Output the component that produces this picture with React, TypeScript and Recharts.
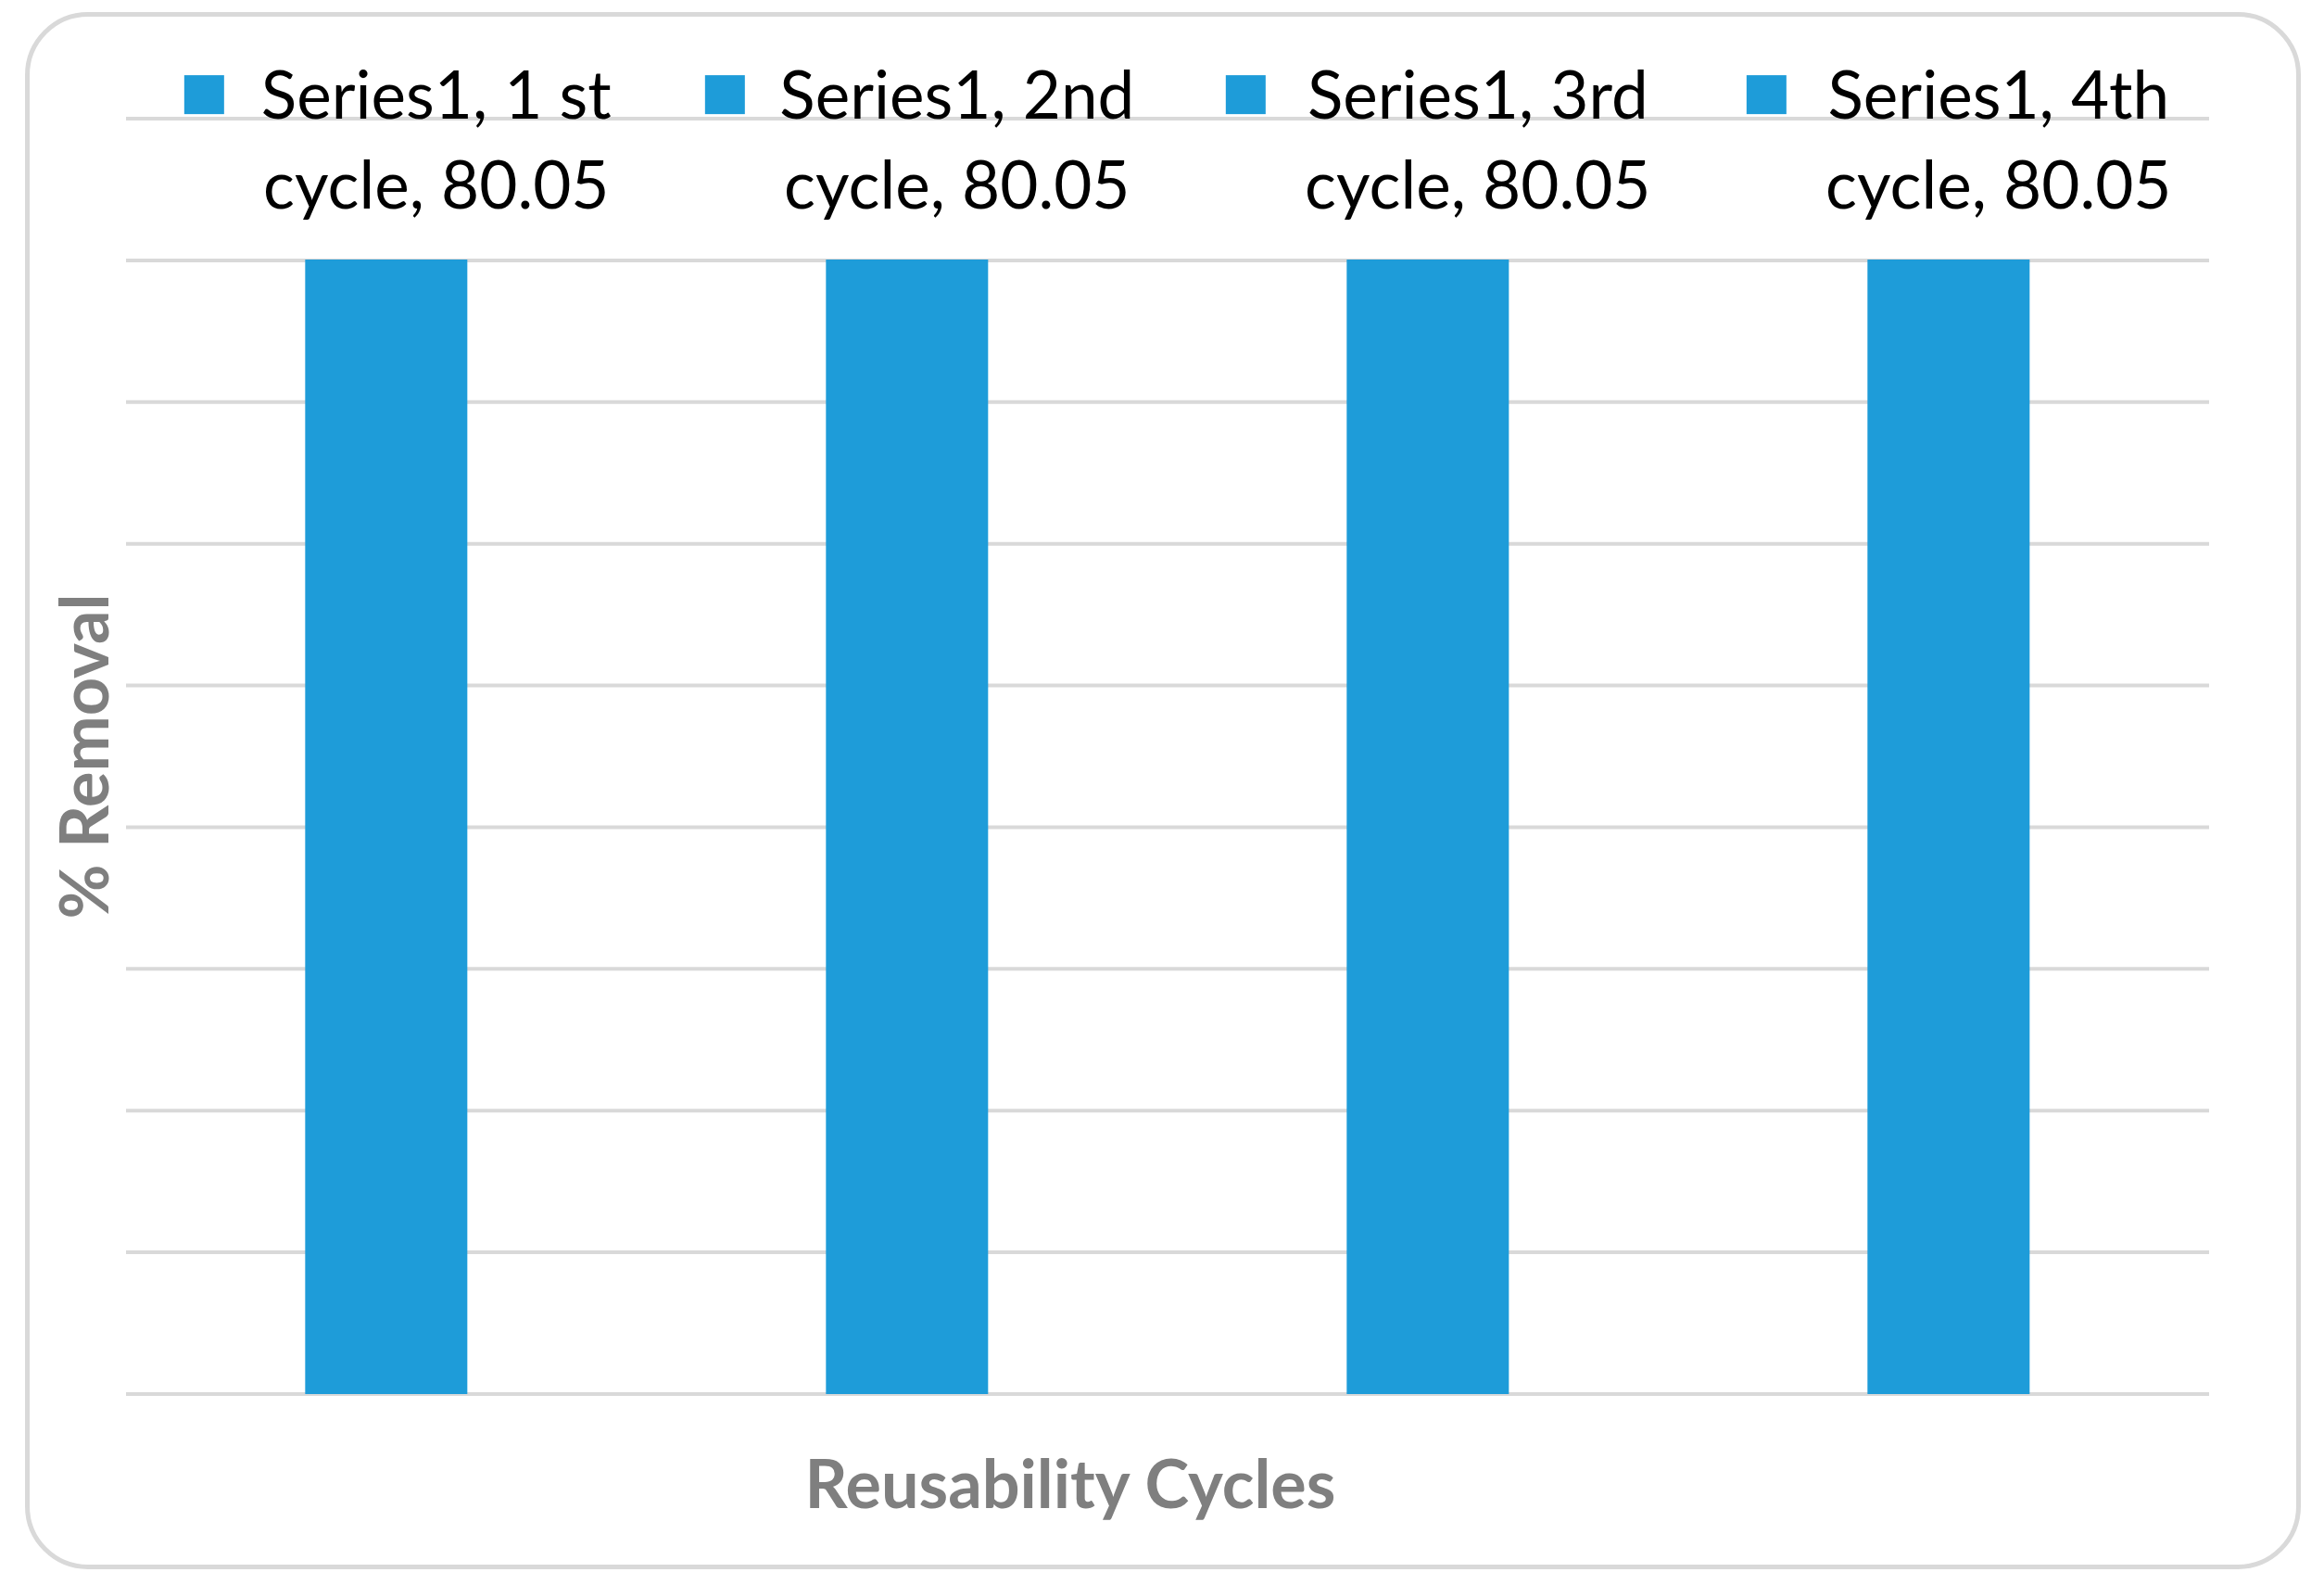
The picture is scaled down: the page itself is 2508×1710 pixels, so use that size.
import React from 'react'
import { BarChart, Bar, XAxis, YAxis, CartesianGrid, LabelList } from 'recharts'

const seriesName = 'Series1'
const ordinals = ['1 st', '2nd', '3rd', '4th']
const removal = [80.05, 80.05, 80.05, 80.05]
const yTicks = [0, 10, 20, 30, 40, 50, 60, 70, 80, 90]

const data = ordinals.map((o, i) => ({
  cycle: `${o} cycle`,
  ordinal: o,
  removal: removal[i],
}))

const BLUE = '#1E9CD9'
const GRID = '#D9D9D9'

function BarLabel(props: any) {
  const { x, y, width, index } = props
  const d = data[index]
  const cx = x + width / 2
  const tx = cx + 54
  return (
    <g>
      <rect x={cx - 218} y={y - 199} width={43} height={42} fill={BLUE} />
      <text
        x={tx}
        y={y - 152}
        textAnchor="middle"
        fontFamily="Lato, sans-serif"
        fontSize={71}
        fill="#000"
      >
        {`${seriesName}, ${d.ordinal}`}
      </text>
      <text
        x={tx}
        y={y - 55}
        textAnchor="middle"
        fontFamily="Lato, sans-serif"
        fontSize={71}
        fill="#000"
      >
        {`cycle, ${d.removal}`}
      </text>
    </g>
  )
}

const NoTick = () => <g />

export default function App() {
  return (
    <div
      style={{
        position: 'absolute',
        left: 0,
        top: 0,
        width: 2508,
        height: 1710,
        background: '#fff',
      }}
    >
      <div
        style={{
          position: 'absolute',
          left: 27,
          top: 13,
          width: 2456,
          height: 1680,
          boxSizing: 'border-box',
          border: `5px solid ${GRID}`,
          borderRadius: 68,
        }}
      />
      <BarChart
        width={2508}
        height={1710}
        data={data}
        margin={{ top: 128, right: 124, bottom: 206, left: 136 }}
        barCategoryGap="34.4%"
        style={{ position: 'absolute', left: 0, top: 0 }}
      >
        <CartesianGrid vertical={false} stroke={GRID} strokeWidth={4} />
        <XAxis dataKey="cycle" hide />
        <YAxis
          domain={[0, 90]}
          ticks={yTicks}
          interval={0}
          width={0}
          tick={<NoTick />}
          axisLine={false}
          tickLine={false}
        />
        <Bar dataKey="removal" fill={BLUE} isAnimationActive={false}>
          <LabelList dataKey="removal" content={<BarLabel />} />
        </Bar>
        <text
          x={1155}
          y={1627}
          textAnchor="middle"
          fontFamily="Lato, sans-serif"
          fontWeight={700}
          fontSize={72}
          fill="#7F7F7F"
        >
          Reusability Cycles
        </text>
        <text
          x={117}
          y={816}
          transform="rotate(-90 117 816)"
          textAnchor="middle"
          fontFamily="Lato, sans-serif"
          fontWeight={700}
          fontSize={72}
          fill="#7F7F7F"
        >
          % Removal
        </text>
      </BarChart>
    </div>
  )
}
